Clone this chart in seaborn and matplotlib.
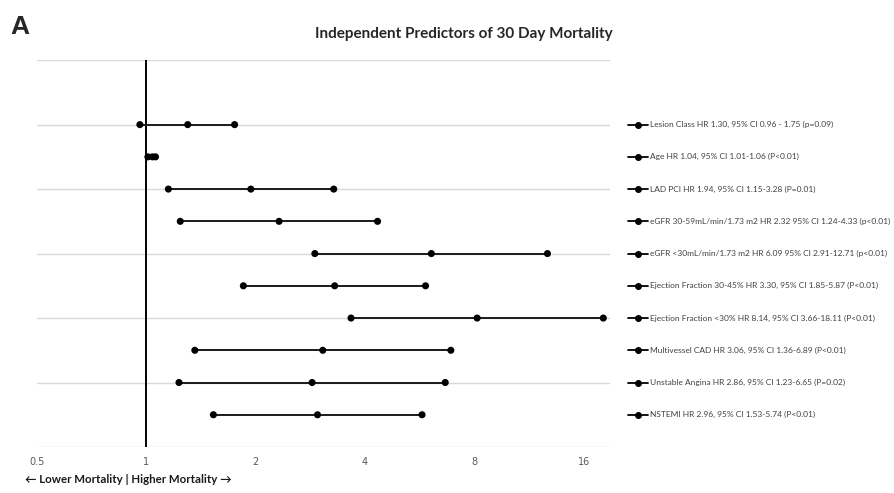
import matplotlib
matplotlib.use("Agg")
import matplotlib.pyplot as plt
import matplotlib.transforms as mtransforms
import seaborn as sns
import pandas as pd

# forest plot data, bottom row first
predictors = [
    "NSTEMI HR 2.96, 95% CI 1.53-5.74 (P<0.01)",
    "Unstable Angina HR 2.86, 95% CI 1.23-6.65 (P=0.02)",
    "Multivessel CAD HR 3.06, 95% CI 1.36-6.89 (P<0.01)",
    "Ejection Fraction <30% HR 8.14, 95% CI 3.66-18.11 (P<0.01)",
    "Ejection Fraction 30-45% HR 3.30, 95% CI 1.85-5.87 (P<0.01)",
    "eGFR <30mL/min/1.73 m2 HR 6.09 95% CI 2.91-12.71 (p<0.01)",
    "eGFR 30-59mL/min/1.73 m2 HR 2.32 95% CI 1.24-4.33 (p<0.01)",
    "LAD PCI HR 1.94, 95% CI 1.15-3.28 (P=0.01)",
    "Age HR 1.04, 95% CI 1.01-1.06 (P<0.01)",
    "Lesion Class HR 1.30, 95% CI 0.96 - 1.75 (p=0.09)",
]
hr = [2.96, 2.86, 3.06, 8.14, 3.30, 6.09, 2.32, 1.94, 1.04, 1.30]
ci_low = [1.53, 1.23, 1.36, 3.66, 1.85, 2.91, 1.24, 1.15, 1.01, 0.96]
ci_high = [5.74, 6.65, 6.89, 18.11, 5.87, 12.71, 4.33, 3.28, 1.06, 1.75]
row = list(range(1, len(predictors) + 1))
x_ticks = [0.5, 1, 2, 4, 8, 16]

df = pd.DataFrame({"predictor": predictors, "row": row, "hr": hr,
                   "low": ci_low, "high": ci_high})
pts = df.melt(id_vars=["predictor", "row"], value_vars=["low", "hr", "high"],
              var_name="kind", value_name="value")

FONT = ["Lato", "DejaVu Sans"]

sns.set_style("white")
fig = plt.figure(figsize=(8.95, 4.93), dpi=100)
ax = fig.add_axes([0.0413, 0.0933, 0.6403, 0.7847])

ax.set_xscale("log", base=2)
ax.set_xlim(0.5, 18.9)
ax.set_ylim(0, 12)

for y in range(0, 13, 2):
    ax.axhline(y, color="#d9d9d9", lw=1, zorder=0)
ax.axvline(1, color="black", lw=1.4, zorder=1)

ax.hlines(df["row"], df["low"], df["high"], color="#1a1a1a", lw=1.4, zorder=2)
sns.scatterplot(data=pts, x="value", y="row", color="black", s=26,
                edgecolor="none", legend=False, ax=ax, zorder=3)

ax.set_xticks(x_ticks)
ax.set_xticklabels([f"{t:g}" for t in x_ticks])
ax.tick_params(axis="x", length=0, labelsize=7, labelcolor="#595959", pad=7)
ax.set_yticks([])
ax.set_xlabel("")
ax.set_ylabel("")
for s in ax.spines.values():
    s.set_visible(False)

# legend-like labels on the right, aligned with rows
trans = mtransforms.blended_transform_factory(ax.transAxes, ax.transData)
for _, r in df.iterrows():
    ax.plot([1.032, 1.066], [r["row"], r["row"]], color="black", lw=1.3,
            transform=trans, clip_on=False)
    ax.plot([1.049], [r["row"]], "o", color="black", ms=4,
            transform=trans, clip_on=False)
    ax.text(1.07, r["row"], r["predictor"], transform=trans, va="center",
            ha="left", fontsize=6.05, color="#404040", family=FONT)

fig.text(0.518, 0.932, "Independent Predictors of 30 Day Mortality",
         ha="center", va="center", fontsize=11, fontweight="bold",
         family=FONT, color="#262626")
fig.text(0.012, 0.945, "A", ha="left", va="center", fontsize=19,
         fontweight="bold", family=["Liberation Sans", "DejaVu Sans"])
fig.text(0.028, 0.027, "\u2190 Lower Mortality | Higher Mortality \u2192",
         ha="left", va="center", fontsize=8.3, fontweight="bold",
         family=FONT, color="#1a1a1a")

fig.savefig("out.png", dpi=100)
